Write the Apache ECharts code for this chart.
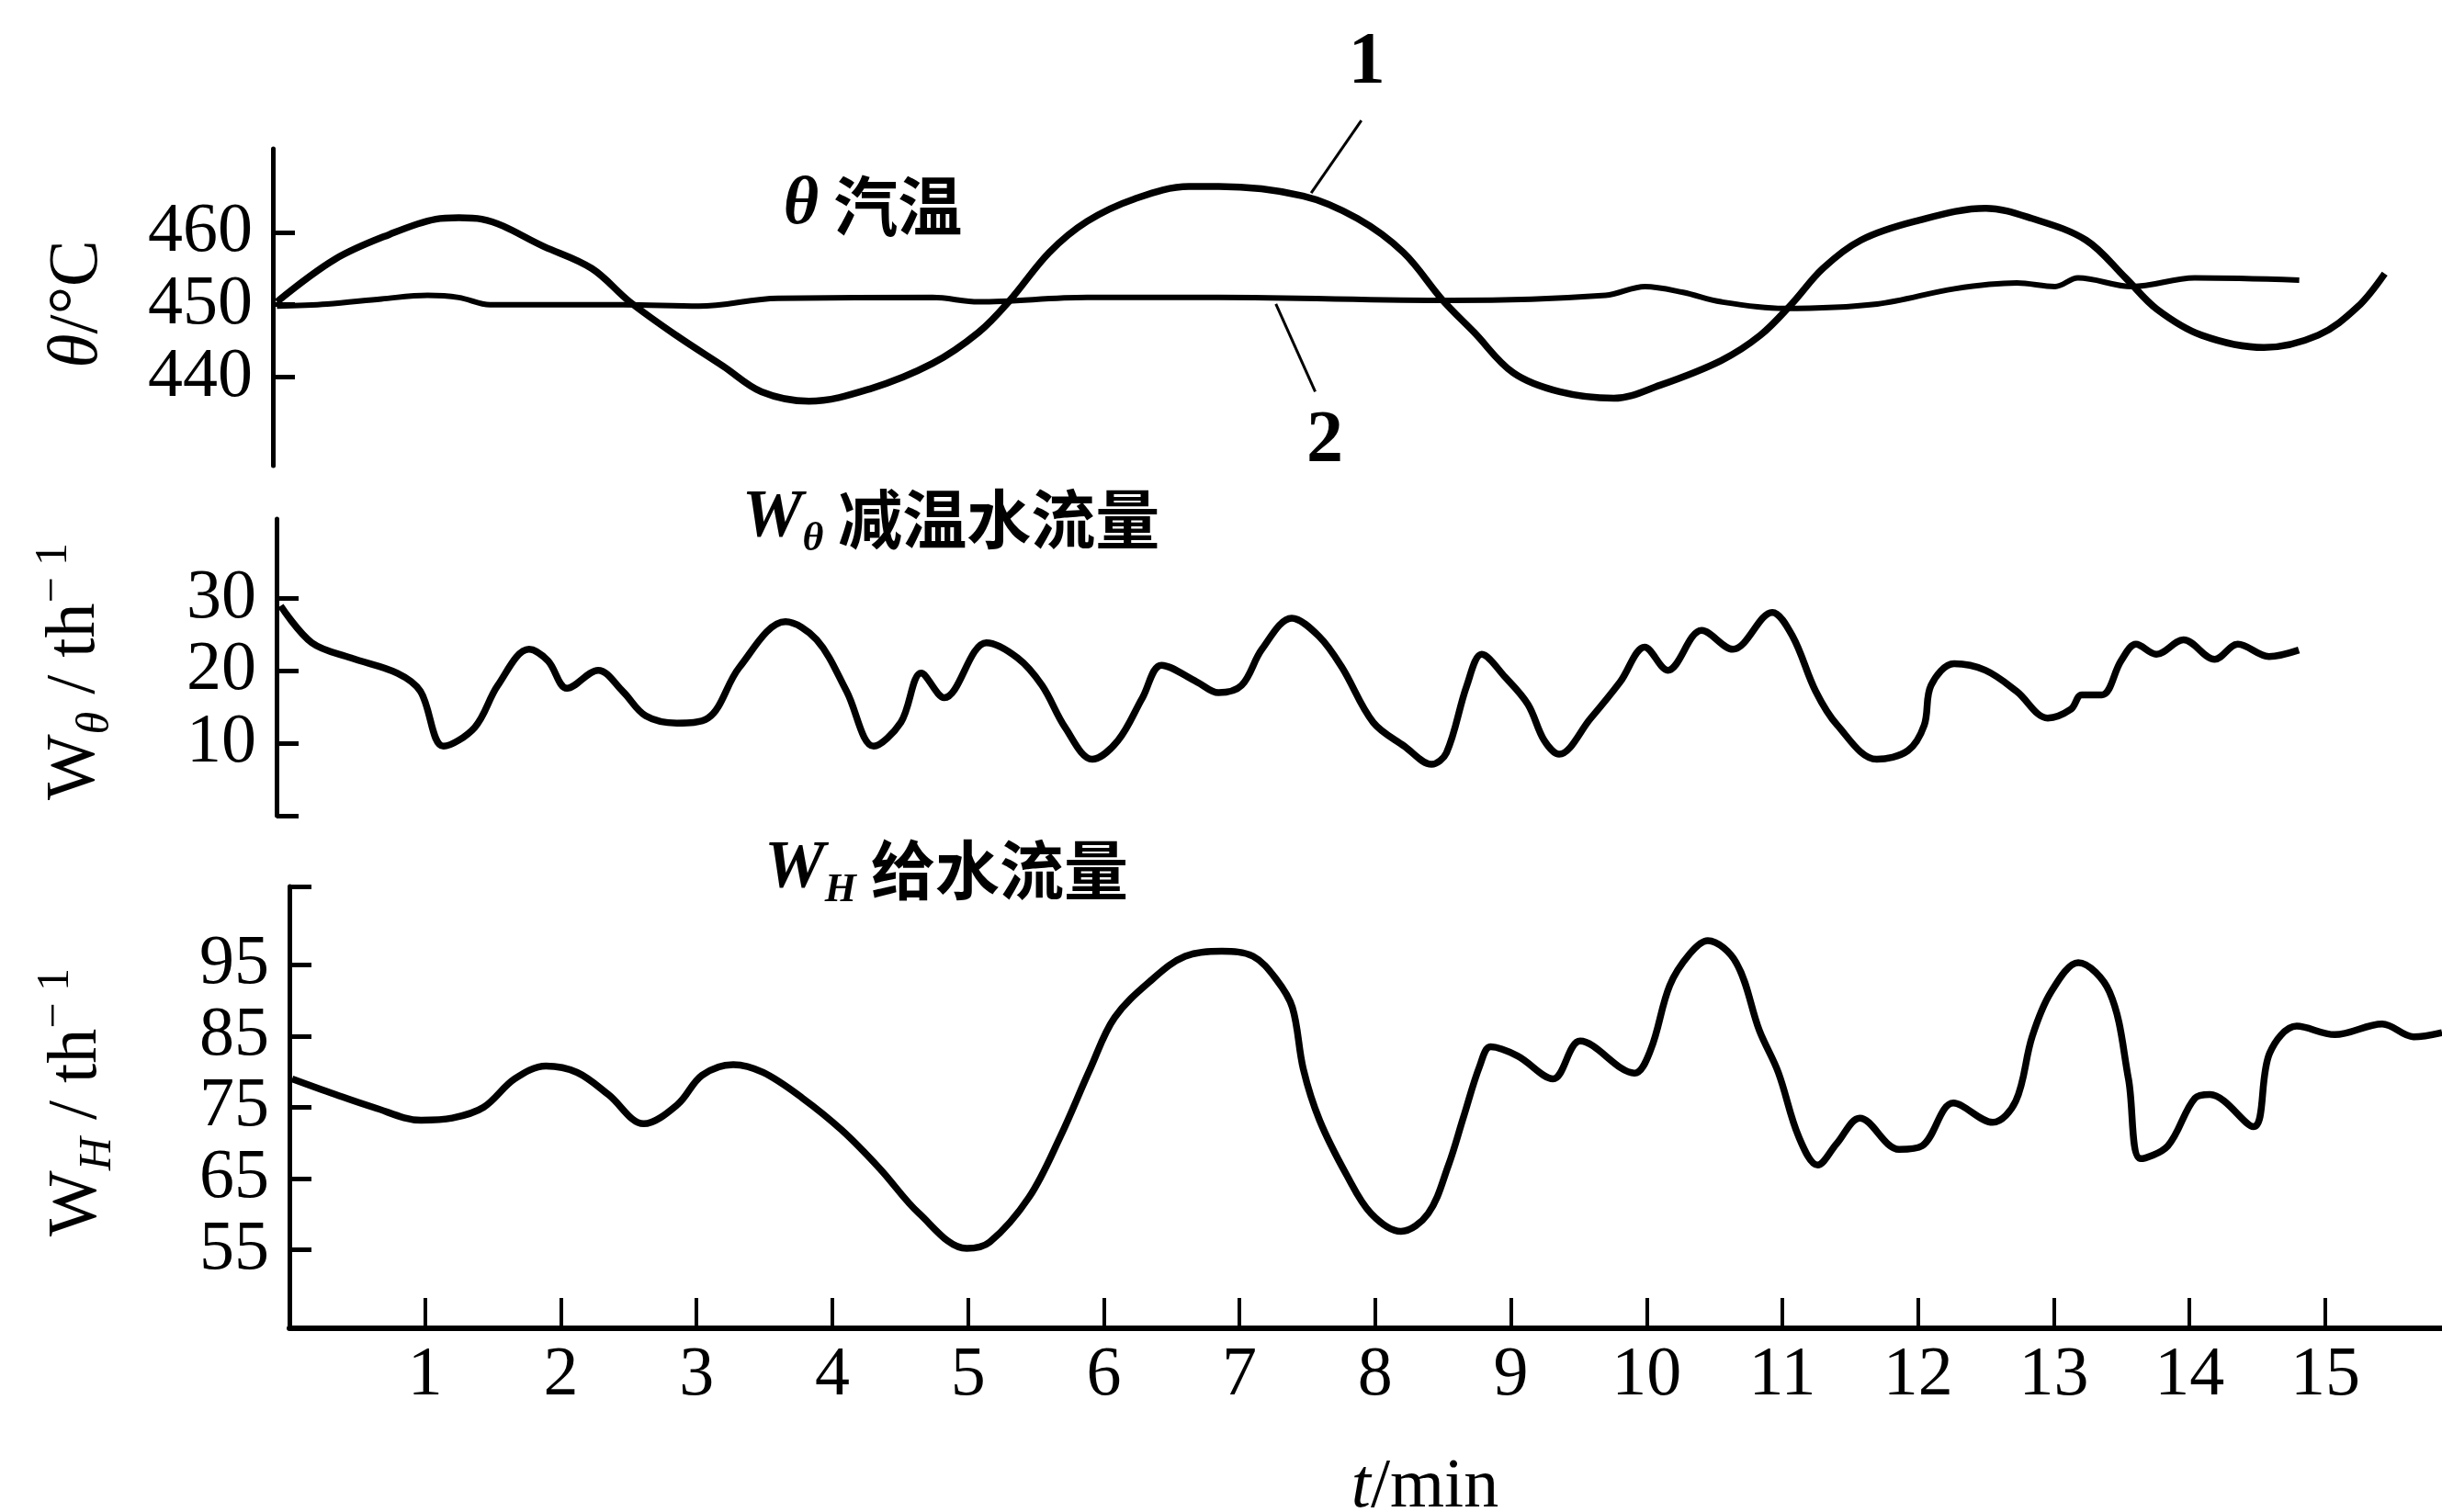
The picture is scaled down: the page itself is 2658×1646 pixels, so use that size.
<!DOCTYPE html>
<html><head><meta charset="utf-8">
<script src="https://cdn.jsdelivr.net/npm/echarts@6/dist/echarts.min.js"></script>
<style>html,body{margin:0;padding:0;background:#fff}#c{width:2658px;height:1646px}</style>
</head><body><div id="c"></div>
<script>
// ---- tick labels ----
const timeTicks = [1,2,3,4,5,6,7,8,9,10,11,12,13,14,15];
const thetaTicks = [440,450,460];
const wthetaTicks = [10,20,30];
const wthetaTickMarks = [0,10,20,30];
const whTicks = [55,65,75,85,95];
const whTickMarks = [55,65,75,85,95,106];

// ---- θ 汽温, curve 1 ----
const steam1T = [0.03,0.46,0.86,1.2,1.37,1.54,2.0,2.35,2.63,2.97,3.32,3.6,3.95,4.4,4.86,5.2,5.43,5.72,6.0,6.35,6.75,6.97,7.59,7.99,8.33,8.62,8.85,9.14,9.48,9.88,10.22,10.67,10.96,11.19,11.42,11.7,12.1,12.62,12.96,13.36,13.65,13.88,14.21,14.67,15.07,15.36,15.56];
const steam1V = [450.4,456.3,459.7,461.8,462.0,461.8,458,455,450.4,445.8,441.5,438,436.7,438.4,441.9,446.2,450.6,457.2,461.5,464.6,466.3,466.3,465.0,461.9,457.2,450.6,446.2,440.6,438,437.1,438.9,442.3,445.8,450.1,455,458.9,461.5,463.3,461.9,458.9,453.7,449.4,445.8,444.1,445.8,449.7,454.3];
// ---- θ 汽温, curve 2 ----
const steam2T = [0.03,0.4,0.8,1.14,1.37,1.6,2.58,3.14,3.72,4.86,5.2,6.0,6.97,8.68,9.82,10.11,10.39,10.67,11.13,11.82,12.39,12.85,13.13,13.3,13.7,14.16,14.93];
const steam2V = [449.8,450.1,450.8,451.3,451,450,450,449.8,450.9,451,450.4,451,451,450.6,451.3,452.5,451.7,450.4,449.5,450.1,452.2,453,452.5,453.7,452.5,453.7,453.4];
// ---- Wθ 减温水流量 ----
const sprayT = [0.03,0.26,0.55,0.89,1.06,1.23,1.46,1.63,1.86,2.0,2.14,2.37,2.55,2.72,2.95,3.18,3.41,3.75,3.98,4.2,4.4,4.6,4.75,4.92,5.23,5.46,5.64,5.81,6.01,6.2,6.38,6.52,6.78,6.94,7.11,7.26,7.48,7.68,7.85,8.08,8.31,8.51,8.62,8.77,8.88,9.05,9.22,9.34,9.45,9.68,9.9,10.08,10.25,10.5,10.73,11.02,11.17,11.34,11.5,11.79,12.02,12.14,12.19,12.36,12.59,12.82,13.05,13.22,13.3,13.45,13.59,13.7,13.85,14.05,14.28,14.45,14.68,14.9];
const sprayV = [29,23.9,21.8,19.7,17.2,9.6,12.2,18,23,21.4,17.6,20.1,17.2,13.8,12.8,13.5,20.5,26.8,24.3,17.2,9.6,12.9,19.7,16.3,23.9,21.8,18,12.2,7.8,10.4,16.3,20.8,18.5,17.0,18,23,27.3,24.8,20.5,12.9,9.6,7.1,8.7,18,22.3,19.2,15.4,10.4,8.5,13.4,18.5,23.3,20.1,25.6,23,28.1,24.8,17.2,12.5,7.8,9,12.5,18,21,20.1,17.2,13.5,14.7,16.7,16.7,21.4,23.7,22.3,24.3,21.6,23.7,22,22.9];
// ---- WH 给水流量 ----
const feedT = [0.02,0.34,0.62,0.97,1.2,1.43,1.66,1.89,2.12,2.35,2.61,2.86,3.04,3.27,3.49,3.78,4.07,4.35,4.64,4.99,5.16,5.45,5.68,5.9,6.08,6.36,6.6,6.87,7.1,7.27,7.39,7.47,7.59,7.79,7.97,8.19,8.39,8.54,8.65,8.77,8.85,9.05,9.31,9.51,9.91,10.03,10.17,10.32,10.45,10.66,10.83,10.97,11.12,11.26,11.4,11.57,11.86,12.03,12.26,12.55,12.72,12.84,12.98,13.18,13.41,13.55,13.64,13.84,14.04,14.15,14.47,14.59,14.79,15.07,15.42,15.65,15.86];
const feedV = [79,76.8,75,73.2,73.5,75,79,80.8,79.9,76.8,72.7,75.4,79.5,81,79.9,76.3,71.8,66.4,60.1,55.2,56.1,62.4,70.9,80.4,87.6,93,96.2,96.9,96.2,93,89,80.4,73.2,65.5,60.1,57.6,60.1,66.9,73.6,80.8,83.5,82.2,79,84.3,79.8,83.1,92.1,96.6,98.4,95.3,85.8,79.9,70.9,66.9,69.9,73.5,69.1,69.6,75.6,72.9,75.9,84.9,91.2,95.3,91.2,79,67.8,69.6,76.3,76.8,72.3,82.6,86.4,85.2,86.7,84.9,85.5];

// ---- annotation anchors (data coordinates of panel 1) ----
const label1At = [8.06, 483.2];
const leader1 = [[8.02, 475.4], [7.65, 465.4]];
const label2At = [7.75, 431.0];
const leader2 = [[7.39, 450.1], [7.68, 438.0]];

const pairs = (t, v) => t.map((x, i) => [x, v[i]]);
const SERIF = '"Liberation Serif", "DejaVu Serif", serif';
const CJK = '"Noto Sans CJK SC", sans-serif';
const TMAX = 15.86;

function yAx(gi, min, max, labels, ticks) {
  return {
    type: 'value', gridIndex: gi, min: min, max: max,
    axisLine: { show: true, onZero: false, lineStyle: { color: '#000', width: 5 } },
    axisTick: { show: true, inside: true, length: 24, lineStyle: { color: '#000', width: 5 }, customValues: ticks },
    axisLabel: { show: true, customValues: labels, interval: 0, hideOverlap: false, showMinLabel: true, showMaxLabel: true,
      fontFamily: SERIF, fontSize: 76, lineHeight: 60, color: '#000', margin: 22 },
    splitLine: { show: false }
  };
}
function hiddenX(gi) {
  return { type: 'value', gridIndex: gi, min: 0, max: TMAX, show: false, splitLine: { show: false } };
}
function lineSeries(xi, data, w) {
  return { type: 'line', xAxisIndex: xi, yAxisIndex: xi, data: data, showSymbol: false, smooth: 0.35,
    lineStyle: { color: '#000', width: w }, animation: false, silent: true };
}

const chart = echarts.init(document.getElementById('c'), null, { renderer: 'canvas' });
const option = {
  backgroundColor: '#fff',
  animation: false,
  grid: [
    { left: 297, top: 162, width: 2343, height: 345 },
    { left: 301, top: 565, width: 2343, height: 323 },
    { left: 315, top: 965, width: 2343, height: 481 }
  ],
  xAxis: [
    hiddenX(0), hiddenX(1),
    { type: 'value', gridIndex: 2, min: 0, max: TMAX,
      axisLine: { show: true, onZero: false, lineStyle: { color: '#000', width: 6 } },
      axisTick: { show: true, inside: true, length: 33, customValues: timeTicks, lineStyle: { color: '#000', width: 4 } },
      axisLabel: { show: true, customValues: timeTicks, interval: 0, fontFamily: SERIF, fontSize: 76, color: '#000', margin: 14 },
      splitLine: { show: false } }
  ],
  yAxis: [
    yAx(0, 427.8, 471.5, thetaTicks, thetaTicks),
    yAx(1, 0, 41, wthetaTicks, wthetaTickMarks),
    yAx(2, 44, 106, whTicks, whTickMarks)
  ],
  series: [
    lineSeries(0, pairs(steam1T, steam1V), 7.5),
    lineSeries(0, pairs(steam2T, steam2V), 6),
    lineSeries(1, pairs(sprayT, sprayV), 7.5),
    lineSeries(2, pairs(feedT, feedV), 7.5)
  ]
};
chart.setOption(option);

const P = (p) => chart.convertToPixel({ gridIndex: 0 }, p);
const l1a = P(leader1[0]), l1b = P(leader1[1]);
const l2a = P(leader2[0]), l2b = P(leader2[1]);
const p1 = P(label1At), p2 = P(label2At);

const rot = (x, y, text, rich) => ({
  type: 'text', x: x, y: y, rotation: Math.PI / 2,
  style: { text: text, align: 'center', verticalAlign: 'middle', rich: rich, fill: '#000' }
});
const richAxis = {
  a: { fontFamily: SERIF, fontSize: 76, lineHeight: 96, verticalAlign: 'middle', fill: '#000' },
  i: { fontFamily: SERIF, fontSize: 76, fontStyle: 'italic', lineHeight: 96, verticalAlign: 'middle', fill: '#000' },
  s: { fontFamily: SERIF, fontSize: 50, fontStyle: 'italic', lineHeight: 96, verticalAlign: 'bottom', fill: '#000' },
  p: { fontFamily: SERIF, fontSize: 50, lineHeight: 96, verticalAlign: 'top', fill: '#000' }
};
const richTitle = {
  w: { fontFamily: SERIF, fontSize: 74, fontStyle: 'italic', fontWeight: 'bold', lineHeight: 90, verticalAlign: 'middle', fill: '#000' },
  s: { fontFamily: SERIF, fontSize: 44, fontStyle: 'italic', fontWeight: 'bold', lineHeight: 90, verticalAlign: 'bottom', fill: '#000' },
  c: { fontFamily: CJK, fontSize: 70, fontWeight: 'bold', lineHeight: 90, verticalAlign: 'middle', fill: '#000' }
};

chart.setOption({
  graphic: [
    rot(85, 331, '{i|θ}{a|/°C}', richAxis),
    rot(82, 731, '{a|W}{s|θ}{a| / th}{p|− 1}', richAxis),
    rot(84, 1200, '{a|W}{s|H}{a| / th}{p|− 1}', richAxis),
    { type: 'text', x: 950, y: 224, style: { text: '{w|θ}{c| 汽温}', rich: richTitle, align: 'center', verticalAlign: 'middle' } },
    { type: 'text', x: 1035, y: 565, style: { text: '{w|W}{s|θ}{c| 减温水流量}', rich: richTitle, align: 'center', verticalAlign: 'middle' } },
    { type: 'text', x: 1030, y: 947, style: { text: '{w|W}{s|H}{c| 给水流量}', rich: richTitle, align: 'center', verticalAlign: 'middle' } },
    { type: 'text', x: 1551, y: 1620, style: { text: '{i|t}{a|/min}', rich: richAxis, align: 'center', verticalAlign: 'middle' } },
    { type: 'line', shape: { x1: l1a[0], y1: l1a[1], x2: l1b[0], y2: l1b[1] }, style: { stroke: '#000', lineWidth: 3 } },
    { type: 'line', shape: { x1: l2a[0], y1: l2a[1], x2: l2b[0], y2: l2b[1] }, style: { stroke: '#000', lineWidth: 3 } },
    { type: 'text', x: p1[0], y: p1[1], style: { text: '1', font: 'bold 80px ' + SERIF, fill: '#000', align: 'center', verticalAlign: 'middle' } },
    { type: 'text', x: p2[0], y: p2[1], style: { text: '2', font: 'bold 80px ' + SERIF, fill: '#000', align: 'center', verticalAlign: 'middle' } }
  ]
});
</script>
</body></html>
